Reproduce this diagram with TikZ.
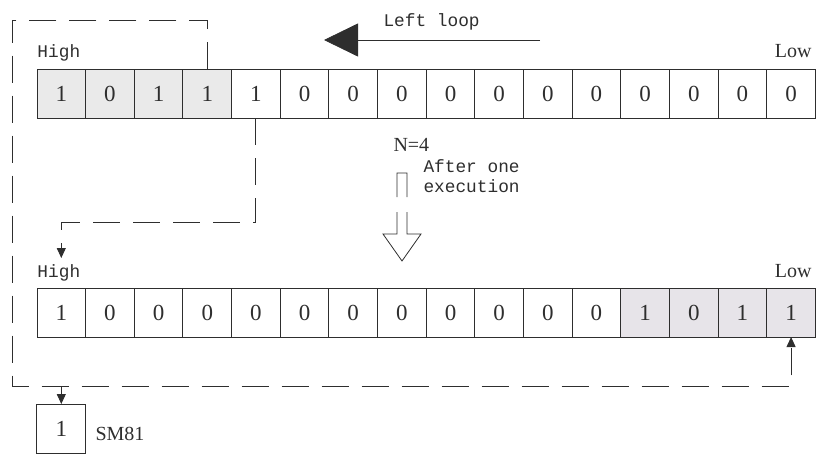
\documentclass[tikz,border=0pt]{standalone}
\usepackage{fontspec}
\setmainfont{Liberation Serif}
\setmonofont{Liberation Mono}
\usetikzlibrary{arrows.meta,positioning}
\definecolor{gTop}{HTML}{EAEAEA}
\definecolor{gBot}{HTML}{E7E4E9}
\definecolor{ink}{HTML}{2E2E2E}

\begin{document}
\begin{tikzpicture}[x=1pt, y=-1pt, color=ink, line width=1pt,
  cell/.style={draw, minimum width=48.65pt, minimum height=49pt, inner sep=0pt, outer sep=0pt, font=\fontsize{23}{23}\selectfont},
  hiT/.style={fill=gTop}, hiB/.style={fill=gBot}, plain/.style={},
  mono/.style={font=\ttfamily\fontsize{17.8}{20}\selectfont, inner sep=0pt},
  txt/.style={font=\fontsize{20}{20}\selectfont, inner sep=0pt},
  dsh/.style={dash pattern=on 27pt off 13pt}, tip/.style={-{Triangle[length=10pt,width=9pt,sep=0pt]}}]
\useasboundingbox (0,0) rectangle (817,453);
% registers before and after
\foreach \b/\s [count=\i] in {1/hiT,0/hiT,1/hiT,1/hiT,1/plain,0/plain,0/plain,0/plain,0/plain,0/plain,0/plain,0/plain,0/plain,0/plain,0/plain,0/plain}
  \node[cell,\s] (t\i) at ({37+(\i-0.5)*48.65},93.5) {\b};
\foreach \b/\s [count=\i] in {1/plain,0/plain,0/plain,0/plain,0/plain,0/plain,0/plain,0/plain,0/plain,0/plain,0/plain,0/plain,1/hiB,0/hiB,1/hiB,1/hiB}
  \node[cell,\s] (b\i) at ({37+(\i-0.5)*48.65},312.5) {\b};
\node[cell] (sm) at (61.3,428.5) {1}; \node[txt, anchor=base west] (smlbl) at (95,440) {SM81};
% labels
\node[mono, anchor=base west] (hiA) at (37,57) {High}; \node[txt, anchor=base east] (loA) at (812,57) {Low};
\node[mono, anchor=base west] (hiB) at (37,277) {High}; \node[txt, anchor=base east] (loB) at (812,277) {Low};
\node[mono, anchor=base west] (loop) at (383,26) {Left loop};
\node[txt, anchor=base west] (nval) at (393,151) {N=4};
\node[mono, anchor=base west, align=left] (exec) at (423,192) {After one\\execution};
% left loop arrow
\coordinate (la) at (540,40); \coordinate (lb) at (324,40);
\draw[-{Triangle[length=34pt,width=33pt]}, line width=0.8pt] (la) -- (lb);
% hollow arrow
\draw[line width=0.8pt] (397,197) -- (397,173) -- (407,173) -- (407,197)
  (397,212) -- (397,234) -- (383,234) -- (402,261) -- (421,234) -- (407,234) -- (407,212);
% shifted bits
\coordinate (ctop) at (12,20); \coordinate (cbot) at (12,386); \coordinate (cin) at (61.3,258);
\draw[dsh,tip] (t4.north) |- (ctop) -- (cbot) -| (b16.south);
\draw[tip] (sm.north |- cbot) -- (sm.north);
\draw[dsh,tip] (t5.south) -- ++(0,104) -| (cin);
\end{tikzpicture}
\end{document}
